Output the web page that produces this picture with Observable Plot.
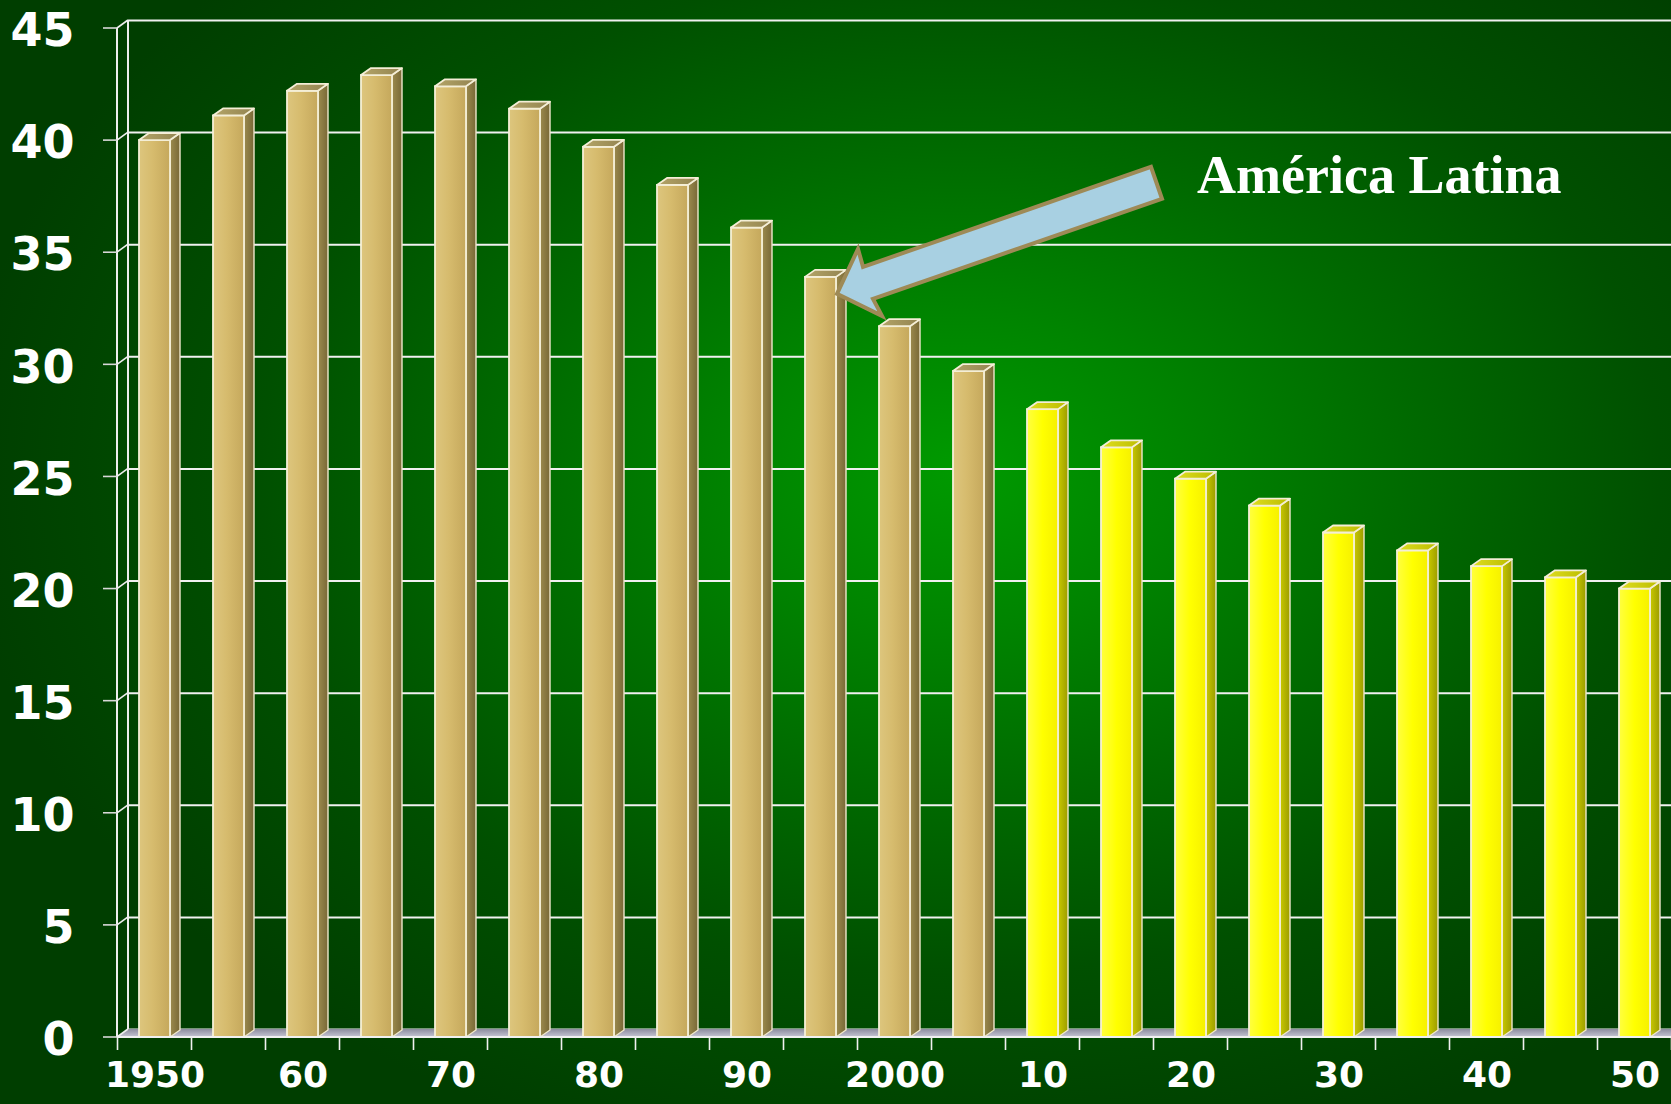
<!DOCTYPE html>
<html>
<head>
<meta charset="utf-8">
<script src="https://cdn.jsdelivr.net/npm/d3@7"></script>
<script src="https://cdn.jsdelivr.net/npm/@observablehq/plot@0.6"></script>
<style>
  html, body { margin: 0; padding: 0; overflow: hidden; width: 1671px; height: 1104px; }
  body {
    background: radial-gradient(ellipse 1000px 720px at 960px 470px,
      #009a00 0%, #008400 22%, #006a00 45%, #005000 70%, #003e00 100%);
  }
  #chart svg { display: block; }
</style>
</head>
<body>
<div id="chart"></div>
<script>
// ---- data ----
const years = [1950, 1955, 1960, 1965, 1970, 1975, 1980, 1985, 1990, 1995, 2000,
               2005, 2010, 2015, 2020, 2025, 2030, 2035, 2040, 2045, 2050];
const values = [40.0, 41.1, 42.2, 42.9, 42.4, 41.4, 39.7, 38.0, 36.1, 33.9, 31.7,
                29.7, 28.0, 26.3, 24.9, 23.7, 22.5, 21.7, 21.0, 20.5, 20.0];
const firstProjectedYear = 2010;
const yTicks = [0, 5, 10, 15, 20, 25, 30, 35, 40, 45];
const xLabelYears = [1950, 1960, 1970, 1980, 1990, 2000, 2010, 2020, 2030, 2040, 2050];
const xLabels = ["1950", "60", "70", "80", "90", "2000", "10", "20", "30", "40", "50"];
const annotationLabel = "América Latina";
const annotatedYear = 1995;

const data = years.map((year, i) => ({year, value: values[i], projected: year >= firstProjectedYear}));
const past = data.filter(d => !d.projected);
const future = data.filter(d => d.projected);
const labelRows = xLabelYears.map((year, i) => ({year, label: xLabels[i]}));

// ---- style constants (pixels) ----
const WX = 11, WY = -8;   // back wall depth
const BX = 10, BY = -7;   // bar depth
const yMax = yTicks[yTicks.length - 1];

const bw = s => (typeof s.bandwidth === "function" ? s.bandwidth() : s.bandwidth);

function defsMark() {
  const defs = d3.create("svg:defs");
  const lin = (id, stops, vertical) => {
    const g = defs.append("linearGradient").attr("id", id)
      .attr("x1", 0).attr("y1", 0).attr("x2", vertical ? 0 : 1).attr("y2", vertical ? 1 : 0);
    stops.forEach(([o, c]) => g.append("stop").attr("offset", o).attr("stop-color", c));
  };
  lin("tanFront", [[0, "#ddc67e"], [0.45, "#d6bb6d"], [1, "#c5a85c"]]);
  lin("tanSide", [[0, "#9c8b4e"], [1, "#786836"]]);
  lin("tanTop", [[0, "#b3a468"], [1, "#938450"]]);
  lin("yelFront", [[0, "#ffff40"], [0.5, "#ffff00"], [1, "#f6f000"]]);
  lin("yelSide", [[0, "#c9c900"], [1, "#9c9c00"]]);
  lin("yelTop", [[0, "#dede20"], [1, "#bcbc00"]]);
  lin("floor", [[0, "#8c8c9e"], [1, "#c6c6d4"]], true);
  return defs.node();
}

function wallMark(index, scales, vals, dim) {
  const y = scales.y;
  const x0 = dim.marginLeft, xR = dim.width - dim.marginRight;
  const g = d3.create("svg:g").attr("fill", "none").attr("stroke", "#eeeeee");
  g.append("line").attr("x1", x0 + WX).attr("x2", x0 + WX)
    .attr("y1", y(0) + WY).attr("y2", y(yMax) + WY).attr("stroke-width", 2);
  g.append("path")
    .attr("d", `M${x0},${y(0)}L${x0 + WX},${y(0) + WY}L${xR + WX},${y(0) + WY}L${xR},${y(0)}Z`)
    .attr("fill", "url(#floor)").attr("stroke", "none");
  g.append("line").attr("x1", x0).attr("x2", x0)
    .attr("y1", y(0)).attr("y2", y(yMax)).attr("stroke-width", 2);
  yTicks.forEach(t => {
    g.append("line").attr("x1", x0 - 14).attr("x2", x0).attr("y1", y(t)).attr("y2", y(t))
      .attr("stroke-width", 1.6).attr("stroke", "#d8d8d8");
    g.append("line").attr("x1", x0).attr("x2", x0 + WX).attr("y1", y(t)).attr("y2", y(t) + WY)
      .attr("stroke-width", 1.6);
  });
  return g.node();
}

function faceMark(kind) {
  return (index, scales) => {
    const x = scales.x, y = scales.y, w = bw(x);
    const g = d3.create("svg:g").attr("stroke", "#efe8cc").attr("stroke-width", 1.4)
      .attr("stroke-linejoin", "round");
    data.forEach(d => {
      const xa = x(d.year), xb = xa + w, yt = y(d.value), yb = y(0);
      const p = d.projected ? "yel" : "tan";
      if (kind === "side") {
        g.append("path")
          .attr("d", `M${xb},${yb}L${xb + BX},${yb + BY}L${xb + BX},${yt + BY}L${xb},${yt}Z`)
          .attr("fill", `url(#${p}Side)`);
      } else {
        g.append("path")
          .attr("d", `M${xa},${yt}L${xa + BX},${yt + BY}L${xb + BX},${yt + BY}L${xb},${yt}Z`)
          .attr("fill", `url(#${p}Top)`).attr("stroke-width", 1.8).attr("stroke", "#f4eed6");
      }
    });
    return g.node();
  };
}

function bottomMark(index, scales, vals, dim) {
  const x = scales.x, y = scales.y, w = bw(x);
  const step = x(years[1]) - x(years[0]);
  const gap = step - w;
  const g = d3.create("svg:g").attr("stroke", "#f0f0f0");
  g.append("line").attr("x1", dim.marginLeft).attr("x2", dim.width - dim.marginRight)
    .attr("y1", y(0)).attr("y2", y(0)).attr("stroke-width", 2);
  const bounds = years.map(yr => x(yr) - gap / 2);
  bounds.push(x(years[years.length - 1]) + w + gap / 2);
  bounds.forEach(b => g.append("line").attr("x1", b).attr("x2", b)
    .attr("y1", y(0)).attr("y2", y(0) + 13).attr("stroke-width", 1.6));
  return g.node();
}

function arrowMark(index, scales) {
  const x = scales.x, y = scales.y, w = bw(x);
  const d = data.find(e => e.year === annotatedYear);
  const tx = x(d.year) + w + 1, ty = y(d.value) + 17;
  const pts = [[314, -127], [325, -95], [36, 5], [45, 22], [0, 0], [21, -45], [26, -27]];
  const g = d3.create("svg:g");
  g.append("path")
    .attr("d", "M" + pts.map(([a, b]) => `${tx + a},${ty + b}`).join("L") + "Z")
    .attr("fill", "#a8d0e2").attr("stroke", "#9e8a56").attr("stroke-width", 4)
    .attr("stroke-linejoin", "miter");
  return g.node();
}

const chart = Plot.plot({
  width: 1671,
  height: 1104,
  marginLeft: 117,
  marginRight: 0,
  marginTop: 28,
  marginBottom: 67,
  style: {background: "transparent", overflow: "hidden"},
  x: {type: "band", domain: years, paddingInner: 0.586, paddingOuter: 0.293, align: 0.5, axis: null},
  y: {domain: [0, yMax], axis: null},
  marks: [
    defsMark,
    Plot.ruleY(yTicks, {dx: WX, dy: WY, stroke: "#f0f0f0", strokeWidth: 2}),
    wallMark,
    faceMark("side"),
    Plot.barY(past, {x: "year", y: "value", fill: "url(#tanFront)", stroke: "#f6f0d8", strokeWidth: 1.8}),
    Plot.barY(future, {x: "year", y: "value", fill: "url(#yelFront)", stroke: "#f6f0d8", strokeWidth: 1.8}),
    faceMark("top"),
    bottomMark,
    Plot.text(yTicks, {
      y: d => d, text: d => String(d), frameAnchor: "left", textAnchor: "end",
      dx: -43, dy: 3, fill: "white", fontSize: 46, fontWeight: "bold", fontFamily: "DejaVu Sans"
    }),
    Plot.text(labelRows, {
      x: "year", text: "label", frameAnchor: "bottom", dy: 49,
      fill: "white", fontSize: 36, fontWeight: "bold", fontFamily: "DejaVu Sans"
    }),
    arrowMark,
    Plot.text([annotationLabel], {
      frameAnchor: "top-right", textAnchor: "end", lineAnchor: "bottom", dx: -110, dy: 164,
      fill: "white", fontSize: 54, fontWeight: "bold", fontFamily: "Liberation Serif"
    })
  ]
});
document.getElementById("chart").appendChild(chart);
</script>
</body>
</html>
